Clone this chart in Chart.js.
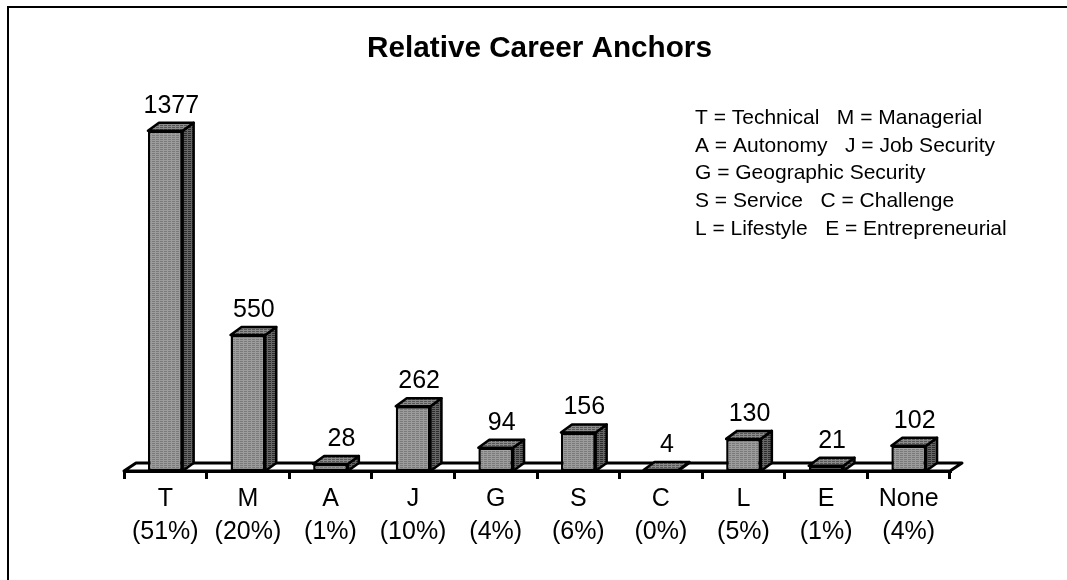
<!DOCTYPE html>
<html>
<head>
<meta charset="utf-8">
<title>Relative Career Anchors</title>
<script src="https://cdn.jsdelivr.net/npm/chart.js@4/dist/chart.umd.min.js"></script>
<style>
  html, body { margin: 0; padding: 0; background: #fff; }
  canvas { display: block; }
</style>
</head>
<body>
<canvas id="chart" width="1067" height="580"></canvas>
<script>
const categories = ['T', 'M', 'A', 'J', 'G', 'S', 'C', 'L', 'E', 'None'];
const percents = ['(51%)', '(20%)', '(1%)', '(10%)', '(4%)', '(6%)', '(0%)', '(5%)', '(1%)', '(4%)'];
const counts = [1377, 550, 28, 262, 94, 156, 4, 130, 21, 102];
const keyLines = [
  'T = Technical   M = Managerial',
  'A = Autonomy   J = Job Security',
  'G = Geographic Security',
  'S = Service   C = Challenge',
  'L = Lifestyle   E = Entrepreneurial'
];

const FONT = '"Liberation Sans", Arial, sans-serif';
const DEPTH_X = 11;
const DEPTH_Y = 8;

// small dither tile, the original is a scanned grey pattern
function dither(light, dark) {
  const c = document.createElement('canvas');
  c.width = 4;
  c.height = 2;
  const g = c.getContext('2d');
  g.fillStyle = light;
  g.fillRect(0, 0, 4, 2);
  g.fillStyle = dark;
  g.fillRect(0, 1, 3, 1);
  return g.createPattern(c, 'repeat');
}

const frontFill = dither('#9c9c9c', '#7a7a7a');
const topFill = dither('#8c8c8c', '#565656');
const sideFill = dither('#666666', '#2c2c2c');

function face(ctx, pts, fill) {
  ctx.beginPath();
  pts.forEach((p, i) => (i ? ctx.lineTo(p[0], p[1]) : ctx.moveTo(p[0], p[1])));
  ctx.closePath();
  ctx.fillStyle = fill;
  ctx.fill();
  ctx.stroke();
}

// floor and the side/top of every bar go under the library's front faces
const depthPlugin = {
  id: 'depth',
  afterLayout(chart) {
    // title sits a little right of the plot centre
    chart.titleBlock.left += 5;
  },
  beforeDatasetsDraw(chart) {
    const ctx = chart.ctx;
    const a = chart.chartArea;
    ctx.save();
    ctx.strokeStyle = '#000';
    ctx.lineWidth = 3;
    ctx.lineJoin = 'round';
    face(ctx, [[a.left, a.bottom], [a.left + DEPTH_X + 1, a.bottom - DEPTH_Y],
      [a.right + DEPTH_X + 1, a.bottom - DEPTH_Y], [a.right, a.bottom]], '#fff');
    ctx.lineWidth = 2.5;
    chart.getDatasetMeta(0).data.forEach(bar => {
      const l = bar.x - bar.width / 2;
      const r = bar.x + bar.width / 2;
      const t = bar.y;
      const b = bar.base;
      face(ctx, [[r, t], [r + DEPTH_X, t - DEPTH_Y], [r + DEPTH_X, b - DEPTH_Y], [r, b]], sideFill);
      face(ctx, [[l, t], [l + DEPTH_X, t - DEPTH_Y], [r + DEPTH_X, t - DEPTH_Y], [r, t]], topFill);
    });
    ctx.restore();
  },
  afterDatasetsDraw(chart) {
    const ctx = chart.ctx;
    ctx.save();
    ctx.fillStyle = '#000';
    ctx.textAlign = 'center';
    ctx.textBaseline = 'alphabetic';
    ctx.font = '25px ' + FONT;
    chart.getDatasetMeta(0).data.forEach((bar, i) => {
      // the "28" label sits further right in the original
      const nudge = i === 2 ? 11 : 6;
      ctx.fillText(String(counts[i]), bar.x + nudge, bar.y - DEPTH_Y - 10);
    });
    // key in the top right
    ctx.textAlign = 'left';
    ctx.font = '21px ' + FONT;
    keyLines.forEach((line, i) => ctx.fillText(line, 695, 124 + i * 27.7));
    // frame: only top and left are on the picture
    ctx.fillRect(7, 6, 1060, 2);
    ctx.fillRect(7, 6, 2, 574);
    ctx.restore();
  }
};

new Chart(document.getElementById('chart'), {
  type: 'bar',
  data: {
    labels: categories.map((c, i) => [c, percents[i]]),
    datasets: [{
      data: counts,
      backgroundColor: frontFill,
      borderColor: '#000',
      borderWidth: 2.5,
      borderSkipped: false,
      barPercentage: 0.42,
      categoryPercentage: 1
    }]
  },
  options: {
    responsive: false,
    animation: false,
    layout: { padding: { left: 124, right: 117, top: 0, bottom: 0 } },
    plugins: {
      legend: { display: false },
      tooltip: { enabled: false },
      title: {
        display: true,
        text: 'Relative Career Anchors',
        color: '#000',
        fullSize: false,
        font: { family: FONT, size: 29.7, weight: 'bold', lineHeight: 1.2 },
        padding: { top: 31, bottom: 58.4 }
      }
    },
    scales: {
      x: {
        afterFit(scale) { scale.height = 109; },
        border: { color: '#000', width: 3 },
        grid: { color: '#000', lineWidth: 3, tickLength: 8, drawOnChartArea: false, offset: true },
        ticks: {
          color: '#000',
          autoSkip: false,
          maxRotation: 0,
          padding: 3,
          font: { family: FONT, size: 25, lineHeight: 1.34 }
        }
      },
      y: { display: false, min: 0, max: 1400 }
    }
  },
  plugins: [depthPlugin]
});
</script>
</body>
</html>
